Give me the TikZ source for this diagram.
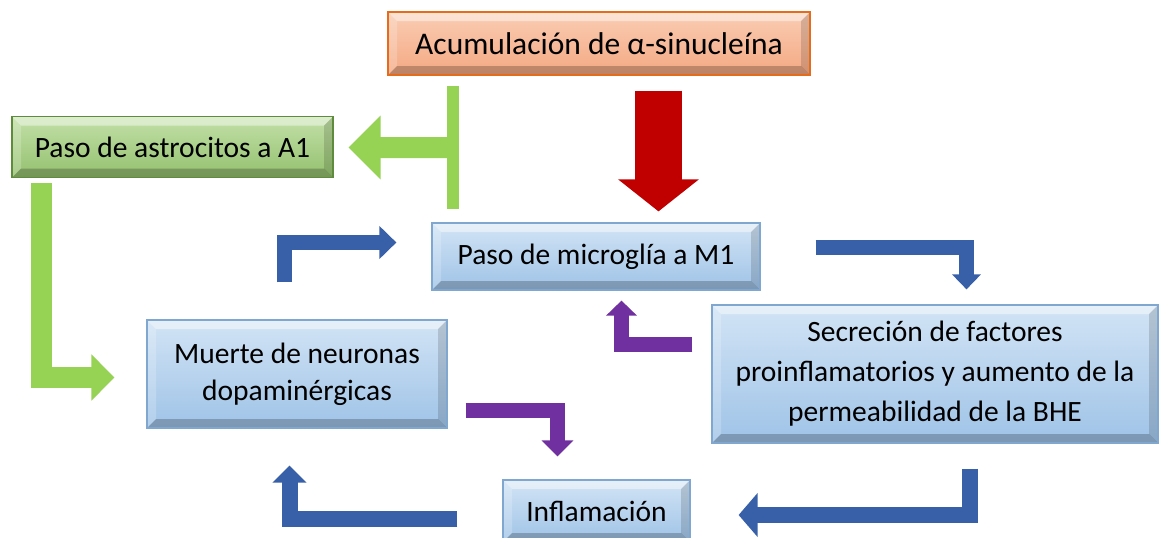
\documentclass[tikz,border=0pt]{standalone}
\usepackage{fontspec}
\setmainfont{Carlito}
\usetikzlibrary{calc}
\usetikzlibrary{arrows.meta}
\definecolor{blueline}{HTML}{7FA7D0}
\definecolor{bluetop}{HTML}{D2E4F5}
\definecolor{bluebot}{HTML}{9FC3E7}
\definecolor{greenline}{HTML}{5E8C3C}
\definecolor{greentop}{HTML}{C2E0A8}
\definecolor{greenbot}{HTML}{94C06E}
\definecolor{orangeline}{HTML}{E46C1A}
\definecolor{orangetop}{HTML}{FACDB4}
\definecolor{orangebot}{HTML}{F4A882}
\definecolor{arrowblue}{HTML}{3860A8}
\definecolor{arrowpurple}{HTML}{7030A0}
\definecolor{arrowgreen}{HTML}{96D254}
\definecolor{arrowred}{HTML}{C00000}
\tikzstyle{bevel} = [path picture={
    \coordinate (pa) at (path picture bounding box.north west);
    \coordinate (pb) at (path picture bounding box.south east);
    \fill[white, opacity=0.45] (pa) -- (pa -| pb) -- ([shift={(-9pt,-9pt)}]pa -| pb) -- ([shift={(9pt,-9pt)}]pa) -- cycle;
    \fill[white, opacity=0.2] (pa) -- (pa |- pb) -- ([shift={(9pt,9pt)}]pa |- pb) -- ([shift={(9pt,-9pt)}]pa) -- cycle;
    \fill[black, opacity=0.22] (pb) -- (pa |- pb) -- ([shift={(9pt,9pt)}]pa |- pb) -- ([shift={(-9pt,9pt)}]pb) -- cycle;
    \fill[black, opacity=0.14] (pb) -- (pa -| pb) -- ([shift={(-9pt,-9pt)}]pa -| pb) -- ([shift={(-9pt,9pt)}]pb) -- cycle;
}]
\tikzstyle{box} = [rectangle, line width=1.2, inner sep=0, align=center, bevel, font=\fontsize{29.5}{38}\selectfont]
\tikzstyle{bluebox} = [box, draw=blueline, top color=bluetop, bottom color=bluebot]
\tikzstyle{greenbox} = [box, draw=greenline, top color=greentop, bottom color=greenbot]
\tikzstyle{orangebox} = [box, draw=orangeline, top color=orangetop, bottom color=orangebot]
\tikzstyle{bentarrow} = [line join=miter, line cap=butt]
\tikzstyle{bluearrow} = [bentarrow, draw=arrowblue, line width=15, -{Triangle[width=32pt, length=17pt]}]
\tikzstyle{purplearrow} = [bentarrow, draw=arrowpurple, line width=14.5, -{Triangle[width=31pt, length=16pt]}]
\tikzstyle{greenarrow} = [bentarrow, draw=arrowgreen, line width=21]

\begin{document}
\begin{tikzpicture}[x=1pt, y=-1pt]
\useasboundingbox (0,0) rectangle (1160,538);

% boxes
\node[orangebox, minimum width=422, minimum height=63, font=\fontsize{31.5}{38}\selectfont] (acum) at (599,43.5) {Acumulación de α-sinucleína};
\node[greenbox, minimum width=321, minimum height=61] (astro) at ($(acum)+(-426.5,103.5)$) {Paso de astrocitos a A1};
\node[bluebox, minimum width=328, minimum height=67] (micro) at ($(acum)+(-3,213)$) {Paso de microglía a M1};
\node[bluebox, minimum width=300, minimum height=108, font=\fontsize{29.5}{37}\selectfont] (muerte) at ($(micro)+(-299,117.5)$) {Muerte de neuronas\\dopaminérgicas};
\node[bluebox, minimum width=446, minimum height=138, font=\fontsize{29.5}{40}\selectfont] (secre) at ($(micro)+(339,117.5)$) {Secreción de factores\\proinflamatorios y aumento de la\\permeabilidad de la BHE};
\node[bluebox, minimum width=187, minimum height=62] (infla) at ($(micro)+(0.5,254.5)$) {Inflamación};

% arrow ends
\coordinate (barTop) at ($(acum.south west)+(66,10)$);
\coordinate (barBot) at ($(micro.north west)+(22,-13)$);
\coordinate (barMid) at ($(barTop)!0.5!(barBot)$);
\coordinate (astroTip) at ($(astro.east)+(15,0.5)$);
\coordinate (redTop) at ($(acum.south)+(59.5,15)$);
\coordinate (redTip) at ($(micro.north)+(62.5,-11)$);
\coordinate (g1s) at ($(astro.south west)+(30.5,5)$);
\coordinate (g1e) at ($(muerte.west)+(-32,3.5)$);
\coordinate (b1s) at ($(muerte.north)+(-12.5,-37)$);
\coordinate (b1e) at ($(micro.west)+(-35,-14)$);
\coordinate (b2s) at ($(micro.east)+(55,-9)$);
\coordinate (b2e) at ($(secre.north)+(31.5,-15)$);
\coordinate (p1s) at ($(secre.west)+(-19,-29.5)$);
\coordinate (p1e) at ($(micro.south)+(25.5,10)$);
\coordinate (p2s) at ($(muerte.east)+(18,36.5)$);
\coordinate (p2e) at ($(infla.north)+(-39,-23)$);
\coordinate (b3s) at ($(secre.south)+(35,25)$);
\coordinate (b3e) at ($(infla.east)+(48,4)$);
\coordinate (b4s) at ($(infla.west)+(-45,7.5)$);
\coordinate (b4e) at ($(muerte.south)+(-7.5,37)$);

% arrows
\draw[greenarrow, line width=12] (barTop) -- (barBot);
\draw[greenarrow, -{Triangle[width=62pt, length=32pt]}] (barMid) -- (astroTip);
\draw[greenarrow, -{Triangle[width=45pt, length=23pt]}] (g1s) |- (g1e);
\draw[bentarrow, draw=arrowred, line width=47, -{Triangle[width=79pt, length=32pt]}] (redTop) -- (redTip);
\draw[bluearrow] (b1s) |- (b1e);
\draw[bluearrow, -{Triangle[width=28pt, length=15pt]}] (b2s) -| (b2e);
\draw[purplearrow, -{Triangle[width=30pt, length=15pt]}] (p1s) -| (p1e);
\draw[purplearrow] (p2s) -| (p2e);
\draw[bluearrow, line width=16, -{Triangle[width=43pt, length=19pt]}] (b3s) |- (b3e);
\draw[bluearrow, line width=16, -{Triangle[width=33pt, length=17pt]}] (b4s) -| (b4e);
\end{tikzpicture}
\end{document}
